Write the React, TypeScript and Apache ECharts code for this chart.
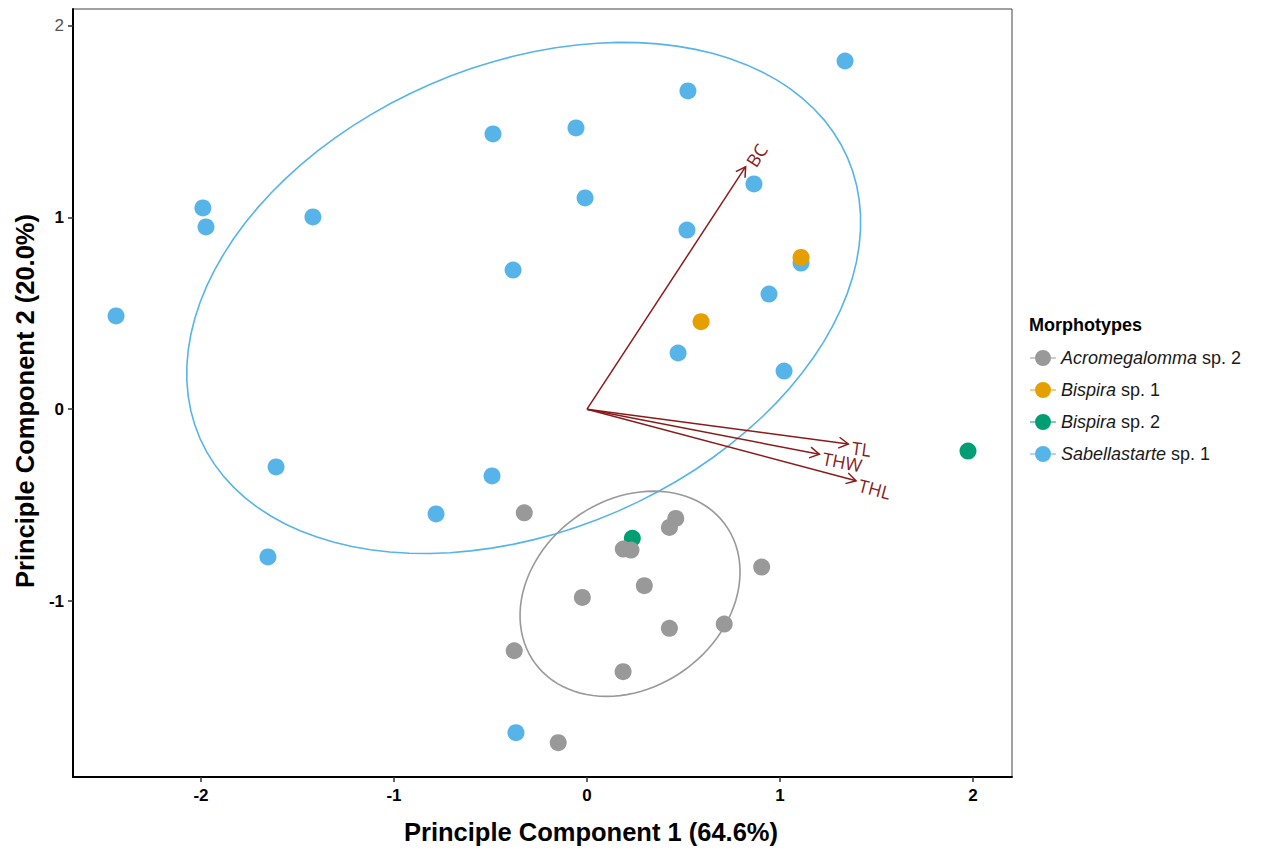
import React, { useEffect, useRef } from 'react';
import * as echarts from 'echarts';

// ---- Data ----
const groupNames = ['Acromegalomma sp. 2', 'Bispira sp. 1', 'Bispira sp. 2', 'Sabellastarte sp. 1'];
const groupColors = ['#999999', '#E69F00', '#009E73', '#56B4E9'];

const acromegalommaSp2 = [
  [-0.325, -0.540], [0.460, -0.569], [0.427, -0.616], [0.188, -0.729], [0.228, -0.734],
  [0.297, -0.920], [0.905, -0.823], [-0.024, -0.981], [0.427, -1.142], [0.711, -1.120],
  [-0.377, -1.259], [0.187, -1.368], [-0.149, -1.738],
];
const bispiraSp1 = [[1.109, 0.791], [0.591, 0.456]];
const bispiraSp2 = [[1.974, -0.218], [0.235, -0.673]];
const sabellastarteSp1 = [
  [1.337, 1.815], [0.523, 1.659], [-0.057, 1.466], [-0.487, 1.435], [-1.990, 1.049],
  [-1.974, 0.950], [-1.420, 1.002], [-0.010, 1.101], [0.865, 1.174], [0.518, 0.934],
  [-0.383, 0.725], [1.109, 0.762], [0.943, 0.600], [0.472, 0.293], [1.021, 0.199],
  [-2.440, 0.486], [-1.611, -0.301], [-0.492, -0.348], [-0.782, -0.546], [-1.653, -0.770],
  [-0.368, -1.686],
];

// Loading vectors (variable arrows)
const loadingNames = ['BC', 'TL', 'THW', 'THL'];
const loadingVectors = [[0.822, 1.264], [1.354, -0.181], [1.204, -0.235], [1.394, -0.373]];

// Confidence ellipses: [centerX, centerY, semiMajor, semiMinor, angleDeg]
const ellipseAcromegalomma = [0.223, -0.962, 0.611, 0.4875, 36.7];
const ellipseSabellastarte = [-0.328, 0.58, 1.83, 1.214, 23.6];

const xTicks = [-2, -1, 0, 1, 2];
const yTicks = [-1, 0, 1, 2];

const arrowColor = '#8B1A1A';
const FONT = '"Liberation Sans", Arial, sans-serif';

function ellipseSeries(params: number[], color: string) {
  const [cx, cy, a, b, deg] = params;
  const th = (deg * Math.PI) / 180;
  return {
    type: 'custom',
    silent: true,
    z: 1,
    data: [[cx, cy]],
    encode: { x: 0, y: 1 },
    renderItem: (_p: any, api: any) => {
      const pts: number[][] = [];
      const n = 100;
      for (let i = 0; i <= n; i++) {
        const t = (i / n) * Math.PI * 2;
        const x = cx + a * Math.cos(th) * Math.cos(t) - b * Math.sin(th) * Math.sin(t);
        const y = cy + a * Math.sin(th) * Math.cos(t) + b * Math.cos(th) * Math.sin(t);
        pts.push(api.coord([x, y]));
      }
      return {
        type: 'polyline',
        shape: { points: pts },
        style: { stroke: color, lineWidth: 1.6, fill: null },
      };
    },
  };
}

export default function App() {
  const ref = useRef<HTMLDivElement>(null);
  useEffect(() => {
    if (!ref.current) return;
    const chart = echarts.init(ref.current, undefined, { renderer: 'svg' });
    const groupData = [acromegalommaSp2, bispiraSp1, bispiraSp2, sabellastarteSp1];
    const drawOrder = [3, 1, 2, 0];
    const legendIcon =
      'path://M0,7.5 L26,7.5 L26,8.5 L0,8.5 Z M21,8 A8,8 0 1 1 5,8 A8,8 0 1 1 21,8 Z';

    const scatterSeries = drawOrder.map((gi, k) => ({
      type: 'scatter',
      name: groupNames[gi],
      data: groupData[gi],
      symbol: 'circle',
      symbolSize: 17,
      z: 2 + k * 0.01,
      itemStyle: { color: groupColors[gi], opacity: 1 },
      emphasis: { disabled: true },
    }));

    const arrowSeries = {
      type: 'custom',
      silent: true,
      z: 5,
      data: loadingVectors,
      encode: { x: 0, y: 1 },
      renderItem: (params: any, api: any) => {
        const x = api.value(0);
        const y = api.value(1);
        const o = api.coord([0, 0]);
        const t = api.coord([x, y]);
        const ang = Math.atan2(t[1] - o[1], t[0] - o[0]);
        const L = 11;
        const spread = Math.PI / 6;
        const p1 = [t[0] - L * Math.cos(ang - spread), t[1] - L * Math.sin(ang - spread)];
        const p2 = [t[0] - L * Math.cos(ang + spread), t[1] - L * Math.sin(ang + spread)];
        const lx = t[0] + 4 * Math.cos(ang) - 3 * Math.sin(ang);
        const ly = t[1] + 4 * Math.sin(ang) + 3 * Math.cos(ang);
        return {
          type: 'group',
          children: [
            {
              type: 'line',
              shape: { x1: o[0], y1: o[1], x2: t[0], y2: t[1] },
              style: { stroke: arrowColor, lineWidth: 1.5 },
            },
            {
              type: 'polyline',
              shape: { points: [p1, t, p2] },
              style: { stroke: arrowColor, lineWidth: 1.5, fill: null },
            },
            {
              type: 'text',
              x: lx,
              y: ly,
              rotation: -ang,
              style: {
                text: loadingNames[params.dataIndex],
                fill: arrowColor,
                fontSize: 18,
                fontFamily: '"Open Sans", sans-serif',
                align: 'left',
                verticalAlign: 'middle',
              },
            },
          ],
        };
      },
    };

    chart.setOption({
      animation: false,
      backgroundColor: '#ffffff',
      title: {
        text: 'Morphotypes',
        left: 1024,
        top: 311,
        textStyle: { fontSize: 18, fontWeight: 'bold', color: '#000', fontFamily: FONT },
      },
      legend: {
        data: groupNames,
        orient: 'vertical',
        left: 1025,
        top: 344,
        itemWidth: 26,
        itemHeight: 16,
        itemGap: 14,
        icon: legendIcon,
        selectedMode: false,
        formatter: (name: string) => name.replace(/^(\S+)/, '{i|$1}'),
        textStyle: {
          fontSize: 18,
          color: '#1a1a1a',
          fontFamily: FONT,
          rich: {
            i: { fontSize: 18, fontStyle: 'italic', color: '#1a1a1a', fontFamily: FONT },
          },
        },
      },
      grid: {
        left: 73,
        top: 9,
        width: 939,
        height: 771,
        show: true,
        borderColor: '#444',
        borderWidth: 1,
        backgroundColor: '#fff',
      },
      xAxis: {
        type: 'value',
        min: -2.663,
        max: 2.202,
        name: 'Principle Component 1 (64.6%)',
        nameLocation: 'middle',
        nameGap: 42,
        nameTextStyle: {
          fontSize: 25.5,
          fontWeight: 'bold',
          color: '#000',
          fontFamily: FONT,
          padding: [0, 0, 0, 97],
        },
        axisLine: { show: true, onZero: false, lineStyle: { color: '#000', width: 2 } },
        axisTick: { show: true, length: 5, customValues: xTicks, lineStyle: { color: '#333', width: 1.5 } },
        axisLabel: {
          customValues: xTicks,
          fontSize: 17,
          fontWeight: 'bold',
          color: '#000',
          margin: 10,
          fontFamily: FONT,
        },
        splitLine: { show: false },
      },
      yAxis: {
        type: 'value',
        min: -1.917,
        max: 2.086,
        name: 'Principle Component 2 (20.0%)',
        nameLocation: 'middle',
        nameGap: 33,
        nameTextStyle: {
          fontSize: 25.5,
          fontWeight: 'bold',
          color: '#000',
          fontFamily: FONT,
          padding: [0, 16, 0, 0],
        },
        axisLine: { show: true, onZero: false, lineStyle: { color: '#000', width: 2 } },
        axisTick: { show: true, length: 5, customValues: yTicks, lineStyle: { color: '#333', width: 1.5 } },
        axisLabel: {
          customValues: yTicks,
          margin: 9,
          formatter: (v: number) => (v === 2 ? '{g|2}' : '{b|' + v + '}'),
          rich: {
            g: { fontSize: 17, color: '#555', fontFamily: FONT },
            b: { fontSize: 17, fontWeight: 'bold', color: '#000', fontFamily: FONT },
          },
        },
        splitLine: { show: false },
      },
      series: [
        ellipseSeries(ellipseSabellastarte, groupColors[3]),
        ellipseSeries(ellipseAcromegalomma, groupColors[0]),
        ...scatterSeries,
        arrowSeries,
      ],
    });
    return () => chart.dispose();
  }, []);

  return (
    <div
      ref={ref}
      style={{ position: 'fixed', left: 0, top: 0, width: 1261, height: 850, background: '#fff' }}
    />
  );
}
